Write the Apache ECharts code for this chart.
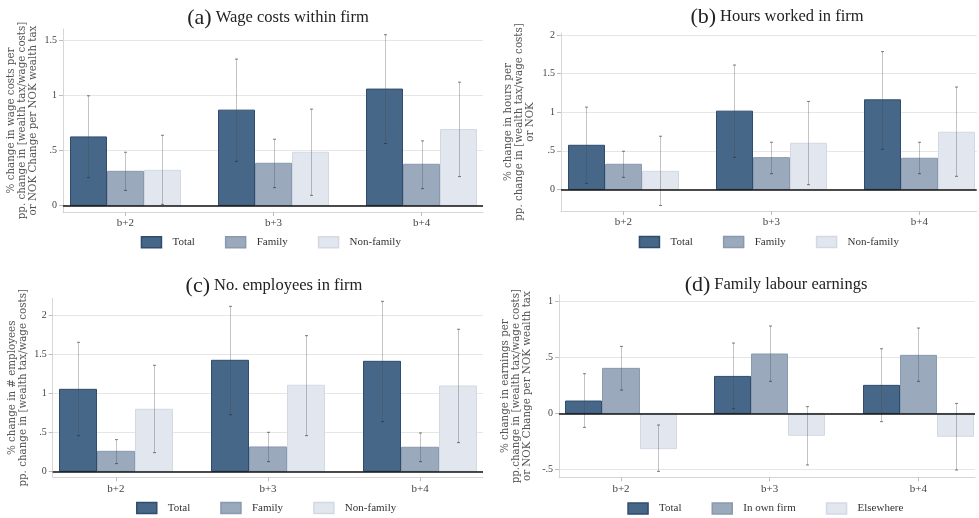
<!DOCTYPE html>
<html><head><meta charset="utf-8">
<script src="https://cdn.jsdelivr.net/npm/echarts@6/dist/echarts.min.js"></script>
<style>html,body{margin:0;padding:0;background:#fff}#c{width:979px;height:518px}</style>
</head><body><div id="c"></div>
<script>
// ---------------- data ----------------
const categories = ['b+2', 'b+3', 'b+4'];

// (a) Wage costs within firm
const aTotal = [0.621, 0.864, 1.055];
const aTotalCI = [[0.252, 0.994], [0.400, 1.327], [0.561, 1.548]];
const aFamily = [0.309, 0.382, 0.373];
const aFamilyCI = [[0.136, 0.482], [0.161, 0.600], [0.152, 0.585]];
const aNonFamily = [0.318, 0.482, 0.688];
const aNonFamilyCI = [[0.009, 0.636], [0.091, 0.873], [0.261, 1.118]];
const aTicks = [0, 0.5, 1, 1.5];

// (b) Hours worked in firm
const bTotal = [0.571, 1.013, 1.160];
const bTotalCI = [[0.078, 1.065], [0.416, 1.610], [0.519, 1.784]];
const bFamily = [0.325, 0.411, 0.403];
const bFamilyCI = [[0.156, 0.494], [0.203, 0.610], [0.203, 0.610]];
const bNonFamily = [0.234, 0.597, 0.740];
const bNonFamilyCI = [[-0.208, 0.688], [0.061, 1.139], [0.169, 1.325]];
const bTicks = [0, 0.5, 1, 1.5, 2];

// (c) No. employees in firm
const cTotal = [1.051, 1.423, 1.410];
const cTotalCI = [[0.457, 1.654], [0.726, 2.115], [0.637, 2.179]];
const cFamily = [0.256, 0.312, 0.308];
const cFamilyCI = [[0.098, 0.406], [0.124, 0.500], [0.124, 0.491]];
const cNonFamily = [0.795, 1.103, 1.094];
const cNonFamilyCI = [[0.239, 1.359], [0.457, 1.739], [0.368, 1.821]];
const cTicks = [0, 0.5, 1, 1.5, 2];

// (d) Family labour earnings
const dTotal = [0.110, 0.330, 0.250];
const dTotalCI = [[-0.125, 0.354], [0.042, 0.628], [-0.074, 0.577]];
const dOwn = [0.402, 0.530, 0.518];
const dOwnCI = [[0.208, 0.598], [0.286, 0.780], [0.286, 0.762]];
const dElse = [-0.315, -0.196, -0.205];
const dElseCI = [[-0.518, -0.104], [-0.461, 0.060], [-0.506, 0.089]];
const dTicks = [-0.5, 0, 0.5, 1];

const seriesNamesABC = ['Total', 'Family', 'Non-family'];
const seriesNamesD = ['Total', 'In own firm', 'Elsewhere'];

// ---------------- styles ----------------
const SERIF = '"Liberation Serif", "Times New Roman", serif';
const SERIF_WIDE = '"DejaVu Serif", serif';
const FILLS = ['#476788', '#9aaabc', '#e2e6ee'];
const BORDERS = ['#2f4b6e', '#8999ae', '#d3d9e3'];
const ERR = 'rgba(70,70,70,0.32)';
const ERR_CAP = 'rgba(40,40,40,0.6)';
const BW = 0.25;            // bar width in category units
const OFFS = [-0.25, 0, 0.25];

function tickFmt(v) {
  if (v === 0) return '0';
  const a = Math.abs(v);
  let s = a < 1 ? String(a).replace(/^0/, '') : String(a);
  return (v < 0 ? '-' : '') + s;
}

function barRender(off) {
  return function (params, api) {
    const x = api.value(0) + off;
    const v = api.value(1);
    const p0 = api.coord([x - BW / 2, 0]);
    const p1 = api.coord([x + BW / 2, v]);
    const x0 = Math.round(p0[0]) + 0.5, x1 = Math.round(p1[0]) - 0.5;
    const y0 = Math.min(p0[1], p1[1]), y1 = Math.max(p0[1], p1[1]);
    return {
      type: 'rect',
      shape: { x: x0, y: y0, width: x1 - x0, height: y1 - y0 },
      style: api.style()
    };
  };
}

function errRender(off) {
  return function (params, api) {
    const x = api.value(0) + off;
    const lo = api.coord([x, api.value(1)]);
    const hi = api.coord([x, api.value(2)]);
    const cx = Math.round(lo[0]) + 0.5;
    return {
      type: 'group',
      children: [
        { type: 'line', shape: { x1: cx, y1: lo[1], x2: cx, y2: hi[1] }, style: { stroke: ERR, lineWidth: 1 } },
        { type: 'line', shape: { x1: cx - 1.5, y1: lo[1], x2: cx + 1.5, y2: lo[1] }, style: { stroke: ERR_CAP, lineWidth: 1 } },
        { type: 'line', shape: { x1: cx - 1.5, y1: hi[1], x2: cx + 1.5, y2: hi[1] }, style: { stroke: ERR_CAP, lineWidth: 1 } }
      ]
    };
  };
}

const panels = [
  { grid: { left: 63, top: 29, width: 420, height: 183 }, y: [-0.06, 1.6], x: [-0.421, 2.414], ticks: aTicks,
    vals: [aTotal, aFamily, aNonFamily], cis: [aTotalCI, aFamilyCI, aNonFamilyCI], names: seriesNamesABC,
    yname: '% change in wage costs per\npp. change in [wealth tax/wage costs]\nor NOK Change per NOK wealth tax', gap: 24,
    title: ['(a)', 'Wage costs within firm'], tx: 278, ty: 7, lx: 140.7, ly: 236 },
  { grid: { left: 561, top: 33, width: 415.7, height: 178 }, y: [-0.28, 2.025], x: [-0.421, 2.388], ticks: bTicks,
    vals: [bTotal, bFamily, bNonFamily], cis: [bTotalCI, bFamilyCI, bNonFamilyCI], names: seriesNamesABC,
    yname: '% change in hours per\npp. change in [wealth tax/wage costs]\nor NOK', gap: 25,
    title: ['(b)', 'Hours worked in firm'], tx: 777, ty: 6, lx: 638.7, ly: 235.7 },
  { grid: { left: 52.7, top: 298.3, width: 430.3, height: 179 }, y: [-0.077, 2.218], x: [-0.416, 2.414], ticks: cTicks,
    vals: [cTotal, cFamily, cNonFamily], cis: [cTotalCI, cFamilyCI, cNonFamilyCI], names: seriesNamesABC,
    yname: '% change in # employees\npp. change in [wealth tax/wage costs]', gap: 24,
    title: ['(c)', 'No. employees in firm'], tx: 274, ty: 275, lx: 136, ly: 501.7 },
  { grid: { left: 559, top: 295, width: 416, height: 182.3 }, y: [-0.571, 1.057], x: [-0.417, 2.381], ticks: dTicks,
    vals: [dTotal, dOwn, dElse], cis: [dTotalCI, dOwnCI, dElseCI], names: seriesNamesD,
    yname: '% change in earnings per\npp.change in [wealth tax/wage costs]\nor NOK Change per NOK wealth tax', gap: 26.5,
    title: ['(d)', 'Family labour earnings'], tx: 776, ty: 274, lx: 627.3, ly: 502.3 }
];

const option = {
  animation: false,
  backgroundColor: '#fff',
  title: [], grid: [], xAxis: [], yAxis: [], series: [], legend: []
};

panels.forEach((p, i) => {
  option.grid.push(Object.assign({ containLabel: false }, p.grid));
  option.title.push({
    text: '{p|' + p.title[0] + '} {t|' + p.title[1] + '}',
    left: p.tx, top: p.ty, textAlign: 'center', padding: 0,
    textStyle: {
      fontFamily: SERIF, color: '#222', fontSize: 16, fontWeight: 'normal',
      rich: {
        p: { fontFamily: SERIF, fontSize: 22, color: '#222', fontWeight: 'normal' },
        t: { fontFamily: SERIF, fontSize: 16.5, color: '#222', fontWeight: 'normal' }
      }
    }
  });
  option.xAxis.push({
    type: 'value', gridIndex: i, min: p.x[0], max: p.x[1],
    axisLine: { show: true, onZero: false, lineStyle: { color: '#d6d6d6', width: 1 } },
    axisTick: { show: true, length: 4, lineStyle: { color: '#bdbdbd' }, customValues: [0, 1, 2] },
    axisLabel: { customValues: [0, 1, 2], formatter: v => categories[Math.round(v)], margin: 6,
      fontFamily: SERIF, fontSize: 11, color: '#444' },
    splitLine: { show: false }
  });
  option.yAxis.push({
    type: 'value', gridIndex: i, min: p.y[0], max: p.y[1],
    name: p.yname, nameLocation: 'middle', nameGap: p.gap, nameRotate: 90,
    nameTextStyle: { fontFamily: SERIF_WIDE, fontSize: 10.3, lineHeight: 11, color: '#555' },
    axisLine: { show: true, onZero: false, lineStyle: { color: '#d6d6d6', width: 1 } },
    axisTick: { show: true, length: 4, lineStyle: { color: '#bdbdbd' }, customValues: p.ticks },
    axisLabel: { customValues: p.ticks, formatter: tickFmt, margin: 6, fontFamily: SERIF, fontSize: 10, color: '#444' },
    splitLine: { show: true, lineStyle: { color: '#e6e6e6', width: 1 } }
  });
  // bars
  for (let k = 0; k < 3; k++) {
    option.series.push({
      type: 'custom', name: p.names[k], xAxisIndex: i, yAxisIndex: i, z: 2,
      renderItem: barRender(OFFS[k]),
      itemStyle: { color: FILLS[k], borderColor: BORDERS[k], borderWidth: 1 },
      encode: { x: 0, y: 1 },
      data: p.vals[k].map((v, j) => [j, v])
    });
  }
  // error bars
  for (let k = 0; k < 3; k++) {
    const s = {
      type: 'custom', name: p.names[k] + ' CI', xAxisIndex: i, yAxisIndex: i, z: 3,
      renderItem: errRender(OFFS[k]),
      encode: { x: 0, y: [1, 2] },
      data: p.cis[k].map((c, j) => [j, c[0], c[1]])
    };
    if (k === 2) {
      s.markLine = {
        silent: true, symbol: 'none', z: 5,
        label: { show: false },
        lineStyle: { color: '#111', width: 1.5, type: 'solid' },
        data: [{ yAxis: 0 }]
      };
    }
    option.series.push(s);
  }
  option.legend.push({
    left: p.lx, top: p.ly, padding: 0, itemGap: 30, itemWidth: 20, itemHeight: 11,
    icon: 'rect', selectedMode: false,
    textStyle: { fontFamily: SERIF, fontSize: 11, color: '#333', padding: [0, 0, 0, 6] },
    data: p.names.map((n, k) => ({ name: n, itemStyle: { color: FILLS[k], borderColor: BORDERS[k], borderWidth: 1.5 } }))
  });
});

const chart = echarts.init(document.getElementById('c'), null, { renderer: 'canvas' });
chart.setOption(option);
</script>
</body></html>
